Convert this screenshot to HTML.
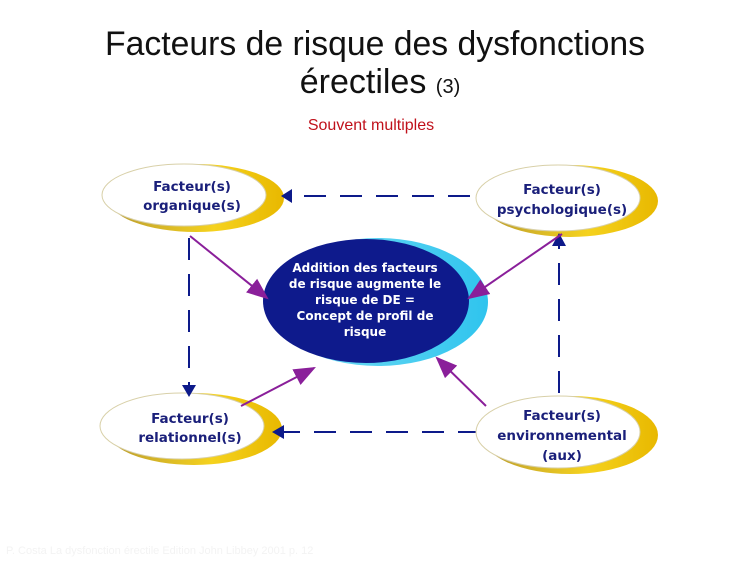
<!DOCTYPE html>
<html><head><meta charset="utf-8"><style>
html,body{margin:0;padding:0;background:#fff;}
svg{display:block;}
</style></head><body>
<svg width="750" height="562" viewBox="0 0 750 562" xmlns="http://www.w3.org/2000/svg">
<defs>
<linearGradient id="gold" x1="0" y1="0" x2="1" y2="0">
<stop offset="0" stop-color="#b89a30"/><stop offset="0.6" stop-color="#f5d21e"/><stop offset="1" stop-color="#e8b800"/>
</linearGradient>
<linearGradient id="cy" x1="0" y1="0" x2="1" y2="0">
<stop offset="0" stop-color="#7fe0f5"/><stop offset="1" stop-color="#2fc4ee"/>
</linearGradient>
<marker id="ph" viewBox="0 0 10 10" refX="9" refY="5" markerWidth="22" markerHeight="22" orient="auto" markerUnits="userSpaceOnUse">
<path d="M0,1 L10,5 L0,9 z" fill="#8a1f9a"/></marker>
</defs>

<text x="375" y="55" text-anchor="middle" font-family="Liberation Sans, sans-serif" font-size="34" fill="#111" textLength="540" lengthAdjust="spacingAndGlyphs">Facteurs de risque des dysfonctions</text>
<text x="380" y="93" text-anchor="middle" font-family="Liberation Sans, sans-serif" fill="#111"><tspan font-size="34">érectiles </tspan><tspan font-size="20">(3)</tspan></text>
<text x="371" y="130" text-anchor="middle" font-family="Liberation Sans, sans-serif" font-size="16" fill="#c0111b">Souvent multiples</text>

<!-- dashed connectors -->
<g stroke="#0d1a8a" stroke-width="2" fill="none" stroke-dasharray="22,14">
<line x1="470" y1="196" x2="292" y2="196"/>
<line x1="189" y1="238" x2="189" y2="386"/>
<line x1="559" y1="393" x2="559" y2="246"/>
<line x1="480" y1="432" x2="282" y2="432"/>
</g>

<!-- nodes -->
<g font-family="DejaVu Sans, Liberation Sans, sans-serif" font-weight="bold" font-size="13.5" fill="#1a1f7a" text-anchor="middle">
<g transform="translate(192,197)">
<ellipse cx="4" cy="1" rx="88" ry="34" fill="url(#gold)"/>
<ellipse cx="-8" cy="-2" rx="82" ry="31" fill="#fff" stroke="#d8d0a8" stroke-width="1"/>
<text x="0" y="-6">Facteur(s)</text><text x="0" y="13">organique(s)</text>
</g>
<g transform="translate(566,200)">
<ellipse cx="4" cy="1" rx="88" ry="36" fill="url(#gold)"/>
<ellipse cx="-8" cy="-2" rx="82" ry="33" fill="#fff" stroke="#d8d0a8" stroke-width="1"/>
<text x="-4" y="-6">Facteur(s)</text><text x="-4" y="14">psychologique(s)</text>
</g>
<g transform="translate(190,428)">
<ellipse cx="4" cy="1" rx="88" ry="36" fill="url(#gold)"/>
<ellipse cx="-8" cy="-2" rx="82" ry="33" fill="#fff" stroke="#d8d0a8" stroke-width="1"/>
<text x="0" y="-5">Facteur(s)</text><text x="0" y="14">relationnel(s)</text>
</g>
<g transform="translate(566,434)">
<ellipse cx="4" cy="1" rx="88" ry="39" fill="url(#gold)"/>
<ellipse cx="-8" cy="-2" rx="82" ry="36" fill="#fff" stroke="#d8d0a8" stroke-width="1"/>
<text x="-4" y="-14">Facteur(s)</text><text x="-4" y="6">environnemental</text><text x="-4" y="26">(aux)</text>
</g>
</g>

<g fill="#0d1a8a">
<path d="M281,196 L292,189 L292,203 z"/>
<path d="M189,397 L182,385 L196,385 z"/>
<path d="M559,233 L552,246 L566,246 z"/>
<path d="M272,432 L284,425 L284,439 z"/>
</g>

<!-- central -->
<ellipse cx="378" cy="302" rx="110" ry="64" fill="url(#cy)"/>
<ellipse cx="366" cy="301" rx="103" ry="62" fill="#0e1a8c"/>
<g font-family="DejaVu Sans, Liberation Sans, sans-serif" font-weight="bold" font-size="12" fill="#fff" text-anchor="middle">
<text x="365" y="272">Addition des facteurs</text>
<text x="365" y="288">de risque augmente  le</text>
<text x="365" y="304">risque de DE  =</text>
<text x="365" y="320">Concept de profil de</text>
<text x="365" y="336">risque</text>
</g>

<!-- purple arrows -->
<g stroke="#8a1f9a" stroke-width="2" fill="none">
<line x1="190" y1="236" x2="267" y2="298" marker-end="url(#ph)"/>
<line x1="562" y1="234" x2="469" y2="298" marker-end="url(#ph)"/>
<line x1="241" y1="406" x2="314" y2="368" marker-end="url(#ph)"/>
<line x1="486" y1="406" x2="437" y2="358" marker-end="url(#ph)"/>
</g>

<text x="6" y="554" font-family="Liberation Sans, sans-serif" font-size="11" fill="#f3f3f3">P. Costa La dysfonction érectile Edition John Libbey 2001 p. 12</text>
</svg>
</body></html>
